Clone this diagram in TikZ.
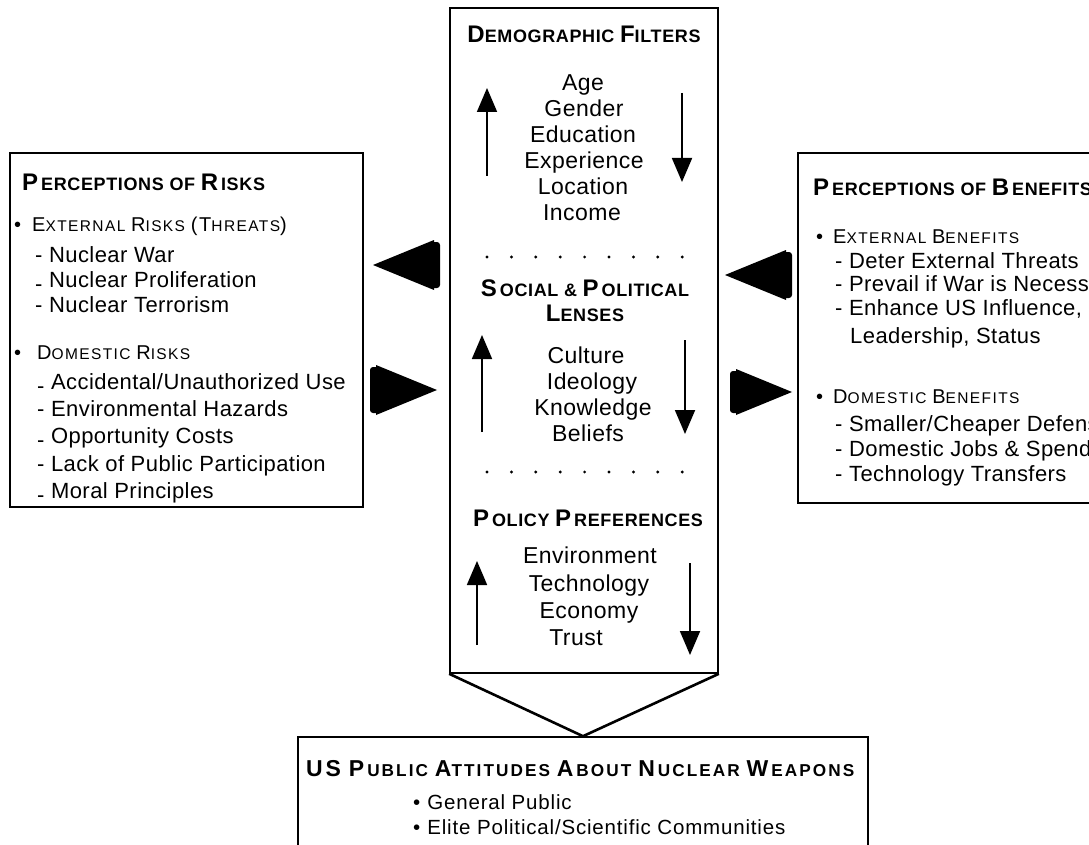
\documentclass[tikz,border=0pt]{standalone}
\usepackage{fontspec}
\setmainfont{Liberation Sans}
\newfontfamily\bodyf[LetterSpace=2]{Liberation Sans}
\newfontfamily\bodyw[LetterSpace=4]{Liberation Sans}
\newfontfamily\headf[LetterSpace=3.5]{Liberation Sans}
\newfontfamily\subf[LetterSpace=9]{Liberation Sans}
\newfontfamily\headw[LetterSpace=12]{Liberation Sans}
\usetikzlibrary{arrows.meta}
\newcommand\bigc[1]{{\fontsize{24}{26}\selectfont #1}}
\newcommand\smc[1]{{\fontsize{18}{26}\selectfont #1}}
\newcommand\bigb[1]{{\fontsize{23}{26}\selectfont #1}}
\newcommand\smb[1]{{\fontsize{17.2}{26}\selectfont #1}}
\newcommand\bigs[1]{{\fontsize{20}{26}\selectfont #1}}
\newcommand\sms[1]{{\fontsize{15.5}{26}\selectfont #1}}
\newcommand\gp{\kern3pt}
\newcommand\ld{\raisebox{-0.2em}{-}}
\tikzset{
  box/.style={draw, line width=1.6pt, inner sep=0pt},
  txt/.style={inner sep=0pt, anchor=base west, font=\bodyf\fontsize{22}{26}\selectfont},
  ctxt/.style={inner sep=0pt, anchor=base, font=\bodyf\fontsize{23}{26}\selectfont},
  btxt/.style={inner sep=0pt, anchor=base west, font=\bodyw\fontsize{20.5}{24}\selectfont},
  hd/.style={inner sep=0pt, font=\headf\bfseries},
  shd/.style={inner sep=0pt, font=\subf},
  flow/.style={line width=1.8pt, -{Triangle[width=20pt,length=24pt]}},
  chev/.style={line width=2.6pt, line join=miter}
}
\begin{document}
\begin{tikzpicture}[x=1pt,y=-1pt]
\useasboundingbox (0,0) rectangle (1089,845);
\clip (0,0) rectangle (1089,845);
\fill[white] (0,0) rectangle (1089,845);

% ---------- centre box ----------
\node[box, minimum width=268pt, minimum height=665pt] (cbox) at (584,340.5) {};
\node[hd, anchor=base] (dh) at (584,43) {\bigc{D}\smc{EMOGRAPHIC }\bigc{F}\smc{ILTERS}};
\node[ctxt] (d1) at (583,91) {Age};
\node[ctxt] (d2) at (584,117) {Gender};
\node[ctxt] (d3) at (583,143) {Education};
\node[ctxt] (d4) at (584,169) {Experience};
\node[ctxt] (d5) at (583,195) {Location};
\node[ctxt] (d6) at (582,221) {Income};
\coordinate (u1s) at (487,176); \coordinate (u1e) at (487,88);
\coordinate (w1s) at (682,93);  \coordinate (w1e) at (682,182);
\draw[flow] (u1s) -- (u1e);
\draw[flow] (w1s) -- (w1e);
\foreach \i in {0,...,8} \fill (487+\i*24.4,257) circle (1.6pt);

\node[hd, anchor=base] (sh1) at (585,296) {\bigc{S}\gp\smc{OCIAL \& }\bigc{P}\gp\smc{OLITICAL}};
\node[hd, anchor=base] (sh2) at (585,321) {\bigc{L}\smc{ENSES}};
\node[ctxt] (s1) at (586,363) {Culture};
\node[ctxt] (s2) at (592,389) {Ideology};
\node[ctxt] (s3) at (593,415) {Knowledge};
\node[ctxt] (s4) at (588,441) {Beliefs};
\coordinate (u2s) at (482,432); \coordinate (u2e) at (482,335);
\coordinate (w2s) at (685,340); \coordinate (w2e) at (685,434);
\draw[flow] (u2s) -- (u2e);
\draw[flow] (w2s) -- (w2e);
\foreach \i in {0,...,8} \fill (487+\i*24.4,472) circle (1.6pt);

\node[hd, anchor=base] (ph) at (588,526) {\bigc{P}\gp\smc{OLICY }\bigc{P}\gp\smc{REFERENCES}};
\node[ctxt] (p1) at (590,563) {Environment};
\node[ctxt] (p2) at (589,591) {Technology};
\node[ctxt] (p3) at (589,618) {Economy};
\node[ctxt] (p4) at (576,645) {Trust};
\coordinate (u3s) at (477,645); \coordinate (u3e) at (477,561);
\coordinate (w3s) at (690,563); \coordinate (w3e) at (690,655);
\draw[flow] (u3s) -- (u3e);
\draw[flow] (w3s) -- (w3e);

% ---------- left box ----------
\node[box, minimum width=353pt, minimum height=354pt] (lbox) at (186.5,330) {};
\node[hd, anchor=base west] (lh) at (22,190) {\bigc{P}\gp\smc{ERCEPTIONS OF }\bigc{R}\gp\smc{ISKS}};
\node[shd, anchor=base west] (le) at (14,231) {{\fontsize{20}{24}\selectfont\textbullet}\hspace{11pt}\bigs{E}\sms{XTERNAL }\bigs{R}\sms{ISKS }\bigs{(T}\sms{HREATS}\bigs{)}};
\node[txt] (l1) at (35,262) {- Nuclear War};
\node[txt] (l2) at (35,287) {\ld{} Nuclear Proliferation};
\node[txt] (l3) at (35,312) {- Nuclear Terrorism};
\node[shd, anchor=base west] (ld) at (14,359) {{\fontsize{20}{24}\selectfont\textbullet}\hspace{16pt}\bigs{D}\sms{OMESTIC }\bigs{R}\sms{ISKS}};
\node[txt] (l4) at (37,389) {\ld{} Accidental/Unauthorized Use};
\node[txt] (l5) at (37,416) {- Environmental Hazards};
\node[txt] (l6) at (37,443) {\ld{} Opportunity Costs};
\node[txt] (l7) at (37,471) {- Lack of Public Participation};
\node[txt] (l8) at (37,498) {\ld{} Moral Principles};

% ---------- right box ----------
\node[box, minimum width=302pt, minimum height=350pt] (rbox) at (949,328) {};
\node[hd, anchor=base west] (rh) at (813,196) {\bigc{P}\gp\smc{ERCEPTIONS OF }\bigc{B}\gp\smc{ENEFITS}};
\node[shd, anchor=base west] (re) at (816,243) {{\fontsize{20}{24}\selectfont\textbullet}\hspace{10pt}\bigs{E}\sms{XTERNAL }\bigs{B}\sms{ENEFITS}};
\node[txt] (r1) at (835,268) {- Deter External Threats};
\node[txt] (r2) at (835,291) {- Prevail if War is Necessary};
\node[txt] (r3) at (835,315) {- Enhance US Influence,};
\node[txt] (r4) at (850,343) {Leadership, Status};
\node[shd, anchor=base west] (rd) at (816,403) {{\fontsize{20}{24}\selectfont\textbullet}\hspace{10pt}\bigs{D}\sms{OMESTIC }\bigs{B}\sms{ENEFITS}};
\node[txt] (r5) at (835,431) {- Smaller/Cheaper Defense};
\node[txt] (r6) at (835,456) {- Domestic Jobs \& Spending};
\node[txt] (r7) at (835,481) {- Technology Transfers};

% ---------- big arrows ----------
\fill (373,265) -- ++(61,-25) -- ++(0,50) -- cycle;
\fill[rounded corners=3pt] (430,242) rectangle (440,288);
\fill (437,390) -- ++(-61,-25) -- ++(0,50) -- cycle;
\fill[rounded corners=3pt] (370,367) rectangle (380,413);
\fill (725,275) -- ++(61,-25) -- ++(0,50) -- cycle;
\fill[rounded corners=3pt] (782,252) rectangle (792,298);
\fill (792,392) -- ++(-56,-23) -- ++(0,46) -- cycle;
\fill[rounded corners=3pt] (730,371) rectangle (740,413);

% ---------- bottom box ----------
\node[box, minimum width=570pt, minimum height=143pt] (bbox) at (583,808.5) {};
\draw[chev] (cbox.south west) -- (bbox.north) -- (cbox.south east);
\node[inner sep=0pt, anchor=base west, font=\headw\bfseries] (bh) at (306,776) {\bigb{US}\kern8pt\bigb{P}\gp\smb{UBLIC }\bigb{A}\smb{TTITUDES }\bigb{A}\gp\smb{BOUT }\bigb{N}\gp\smb{UCLEAR }\bigb{W}\gp\smb{EAPONS}};
\node[btxt] (b1) at (413,809) {\textbullet\hspace{7pt}General Public};
\node[btxt] (b2) at (413,834) {\textbullet\hspace{7pt}Elite Political/Scientific Communities};
\end{tikzpicture}
\end{document}
